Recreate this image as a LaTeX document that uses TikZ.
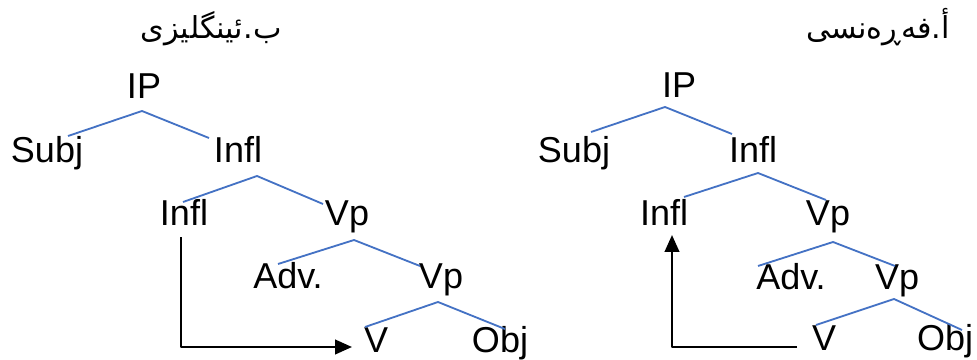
\documentclass[tikz,border=0pt]{standalone}
\usepackage{fontspec}
\setmainfont{Liberation Sans}
\newfontfamily\arabicfont[Script=Arabic]{DejaVu Sans}
\TeXXeTstate=1
\usetikzlibrary{calc,arrows.meta}
\definecolor{treeblue}{RGB}{68,114,196}
\begin{document}
\begin{tikzpicture}[x=0.025cm,y=-0.025cm,line join=round,
	lbl/.style={anchor=base,inner sep=0pt,font=\fontsize{25.6}{30}\selectfont},
	ttl/.style={anchor=base,inner sep=0pt,font=\fontsize{21.5}{26}\selectfont\arabicfont},
	branch/.style={treeblue,line width=1.3pt},
	move/.style={line width=1.7pt,-{Triangle[length=0.42cm,width=0.36cm]}}]
	\useasboundingbox (0,0) rectangle (977,360);
	\node[ttl] (ttlb) at (211,39) {\beginR ب.ئینگلیزی\endR}; %%% ب
	\node[ttl] (ttla) at (878,39) {\beginR أ.فەڕەنسی\endR}; %%% أ
	%%% cay ben trai
	\node[lbl] (ipl) at (144,99) {IP};
	\node[lbl] (subjl) at (47,162) {Subj};
	\node[lbl] (infll) at (238,162) {Infl};
	\node[lbl] (inflbl) at (184,225) {Infl};
	\node[lbl] (vpl) at (347,225) {Vp};
	\node[lbl] (advl) at (288,288) {Adv.};
	\node[lbl] (vpbl) at (441,288) {Vp};
	\node[lbl] (vl) at (376,352) {V};
	\node[lbl] (objl) at (500,352) {Obj};
	\draw[branch] ($(subjl.base)+(21,-26)$)--($(ipl.base)+(-2,12)$)--($(infll.base)+(-29,-24)$);
	\draw[branch] ($(inflbl.base)+(-1,-23)$)--($(infll.base)+(19,14)$)--($(vpl.base)+(-24,-21)$);
	\draw[branch] ($(advl.base)+(-10,-24)$)--($(vpl.base)+(7,15)$)--($(vpbl.base)+(-21,-22)$);
	\draw[branch] ($(vl.base)+(-11,-25)$)--($(vpbl.base)+(-3,14)$)--($(objl.base)+(5,-23)$);
	\draw[move] ($(inflbl.base)+(-3,12)$) |- ($(vl.base)+(-24,-5)$);
	%%% cay ben phai
	\node[lbl] (ipr) at (679,98) {IP};
	\node[lbl] (subjr) at (574,162) {Subj};
	\node[lbl] (inflr) at (753,162) {Infl};
	\node[lbl] (inflbr) at (664,225) {Infl};
	\node[lbl] (vpr) at (828,225) {Vp};
	\node[lbl] (advr) at (791,289) {Adv.};
	\node[lbl] (vpbr) at (897,289) {Vp};
	\node[lbl] (vr) at (824,350) {V};
	\node[lbl] (objr) at (945,350) {Obj};
	\draw[branch] ($(subjr.base)+(17,-30)$)--($(ipr.base)+(-14,9)$)--($(inflr.base)+(-21,-28)$);
	\draw[branch] ($(inflbr.base)+(20,-28)$)--($(inflr.base)+(5,11)$)--($(vpr.base)+(-2,-25)$);
	\draw[branch] ($(advr.base)+(-33,-23)$)--($(vpr.base)+(5,17)$)--($(vpbr.base)+(-2,-23)$);
	\draw[branch] ($(vr.base)+(-8,-25)$)--($(vpbr.base)+(-3,10)$)--($(objr.base)+(17,-20)$);
	\draw[move] ($(vr.base)+(-27,-3)$) -| ($(inflbr.base)+(8,10)$);
\end{tikzpicture}
\end{document}
